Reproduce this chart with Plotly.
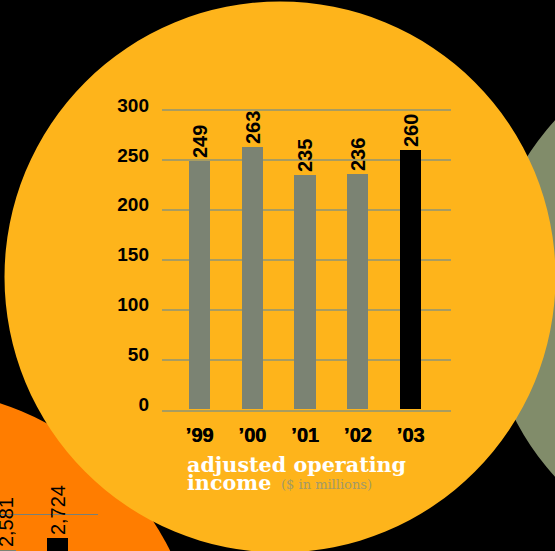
import plotly.graph_objects as go

# Adjusted operating income, $ millions
years = ["’99", "’00", "’01", "’02", "’03"]
income = [249, 263, 235, 236, 260]
bar_colors = ["#7b8373", "#7b8373", "#7b8373", "#7b8373", "#000000"]
y_ticks = [0, 50, 100, 150, 200, 250, 300]

# Neighbouring panel (partly visible at lower left)
side_years = ["’02", "’03"]
side_values = [2581, 2724]
side_colors = ["#7b8373", "#000000"]

W, H = 555, 551
YELLOW = "#feb41b"
ORANGE = "#ff7d00"
SAGE = "#818c6a"
GRID = "#a89c60"


def px_circle(cx, cy, r, color):
    """Circle given in pixel coordinates, drawn on the paper layer."""
    return dict(
        type="circle", xref="paper", yref="paper", layer="below",
        x0=(cx - r) / W, x1=(cx + r) / W,
        y0=1 - (cy + r) / H, y1=1 - (cy - r) / H,
        fillcolor=color, line=dict(width=0),
    )


fig = go.Figure()

fig.add_trace(go.Bar(
    x=years, y=income, marker=dict(color=bar_colors, line=dict(width=0)),
    width=0.4, text=[str(v) for v in income], textposition="outside",
    textangle=-90, constraintext="none", cliponaxis=False,
    textfont=dict(family="Liberation Sans", size=20, color="black", weight="bold"),
    xaxis="x", yaxis="y", hoverinfo="skip",
))

fig.add_trace(go.Bar(
    x=side_years, y=side_values, marker=dict(color=side_colors, line=dict(width=0)),
    width=0.4, text=[f"{v:,}" for v in side_values], textposition="outside",
    textangle=-90, constraintext="none", cliponaxis=False,
    textfont=dict(family="Liberation Sans", size=20, color="black"),
    xaxis="x3", yaxis="y3", hoverinfo="skip",
))

# main plot area in pixels: x 162..451, y 105..409.5
px_per_unit = (409.5 - 110) / 300
y_top = 305
top_px = 409.5 - y_top * px_per_unit
step = 52.75
c0 = 199.5

fig.update_layout(
    width=W, height=H, autosize=False,
    margin=dict(l=0, r=0, t=0, b=0, pad=0, autoexpand=False),
    paper_bgcolor="black", plot_bgcolor="rgba(0,0,0,0)",
    showlegend=False, bargap=0,
    shapes=[
        px_circle(751, 298.5, 265, SAGE),
        px_circle(-90, 679, 290, ORANGE),
        px_circle(280, 277, 275.5, YELLOW),
    ],
    xaxis=dict(
        domain=[162 / W, 451 / W], anchor="y", type="category", automargin=False,
        range=[(162 - c0) / step, (451 - c0) / step],
        showgrid=False, zeroline=False, ticks="",
        showline=True, linecolor=GRID, linewidth=1.5, layer="below traces",
        tickfont=dict(family="Liberation Sans", size=20, color="black", weight="bold",
                      shadow="0.5px 0 0 black"),
        ticklabelstandoff=7,
    ),
    yaxis=dict(
        domain=[(H - 409.5) / H, (H - top_px) / H], anchor="x", automargin=False,
        range=[0, y_top], tickvals=y_ticks, ticktext=[str(t) for t in y_ticks],
        showgrid=True, gridcolor=GRID, gridwidth=1.6, zeroline=False,
        ticks="", showline=False, layer="below traces",
        tickfont=dict(family="Liberation Sans", size=19, color="black", weight="bold"),
        ticklabelstandoff=12, ticklabelshift=-5,
    ),
    xaxis3=dict(
        domain=[0, 98 / W], anchor="y3", type="category", automargin=False,
        range=[-5.5 / 52, (98 - 5.5) / 52],
        showgrid=False, zeroline=False, showticklabels=False, ticks="",
    ),
    yaxis3=dict(
        domain=[0, 0.165], anchor="x3", automargin=False,
        range=[2568, 2568 + 0.165 * H * 12], tickvals=[2500, 3000],
        showgrid=True, gridcolor="#76807a", gridwidth=1.2, zeroline=False,
        showticklabels=False, ticks="",
    ),
)

# chart caption
fig.add_annotation(
    text="adjusted operating", xref="paper", yref="paper",
    x=186 / W, y=1 - 465 / H, xanchor="left", yanchor="middle", showarrow=False,
    borderpad=0,
    font=dict(family="DejaVu Serif", size=20.7, color="white", weight="bold"),
)
fig.add_annotation(
    text="income", xref="paper", yref="paper",
    x=186 / W, y=1 - 483 / H, xanchor="left", yanchor="middle", showarrow=False,
    borderpad=0,
    font=dict(family="DejaVu Serif", size=20.7, color="white", weight="bold"),
)
fig.add_annotation(
    text="($ in millions)", xref="paper", yref="paper",
    x=280 / W, y=1 - 484.5 / H, xanchor="left", yanchor="middle", showarrow=False,
    borderpad=0,
    font=dict(family="DejaVu Serif", size=13, color="#a39a68"),
)

fig.write_html("out.html")
